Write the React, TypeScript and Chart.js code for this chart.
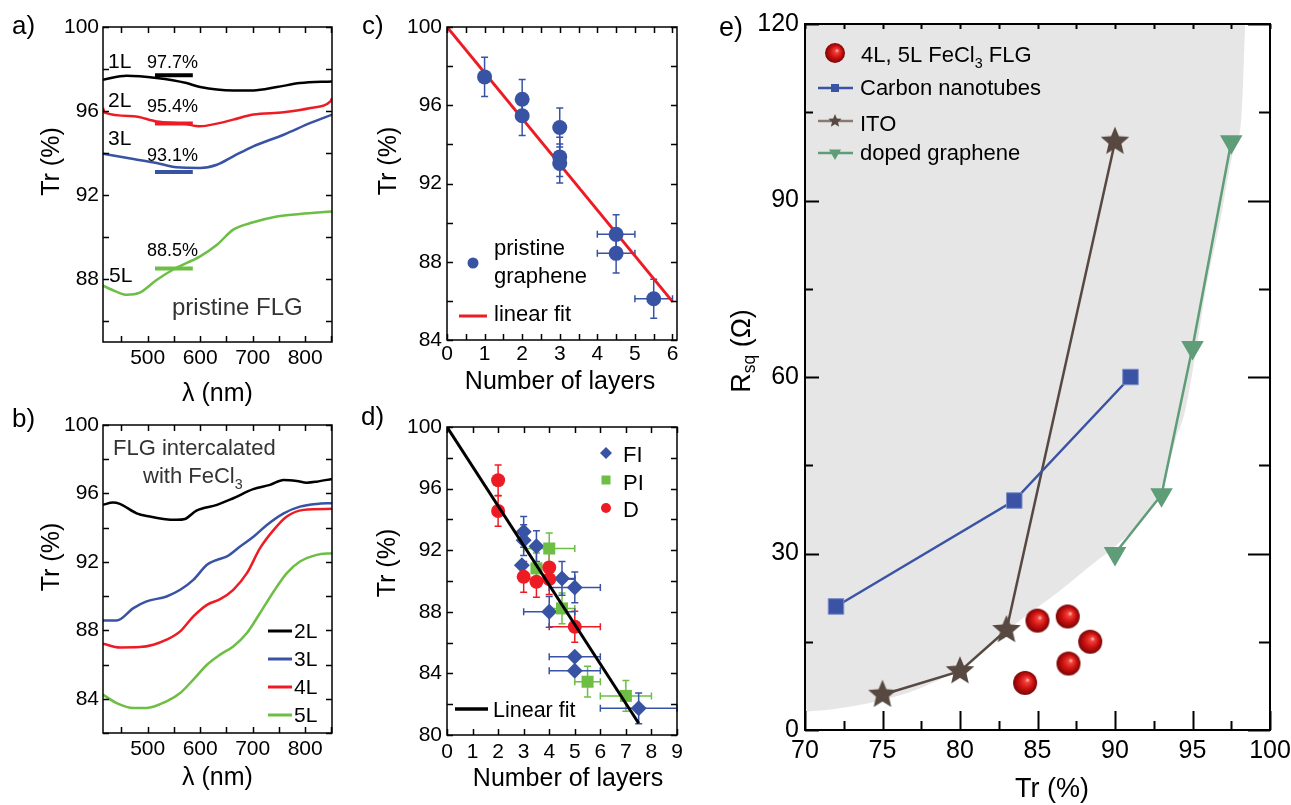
import React, { useEffect, useRef } from 'react';
import { Chart, registerables } from 'chart.js';

Chart.register(...registerables);

const FAM = "'Liberation Sans', Arial, Helvetica, sans-serif";

// ---------------- Panel a: pristine FLG ----------------
const a1L_nm = [415, 460, 517, 574, 600, 663, 701, 746, 790, 851];
const a1L_tr = [97.49, 97.68, 97.57, 97.33, 97.14, 96.98, 96.98, 97.14, 97.33, 97.41];
const a2L_nm = [415, 418, 473, 517, 568, 600, 632, 663, 701, 759, 810, 848, 851];
const a2L_tr = [96.15, 95.92, 95.75, 95.5, 95.4, 95.27, 95.4, 95.59, 95.83, 95.94, 96.14, 96.46, 96.6];
const a3L_nm = [415, 473, 517, 555, 600, 632, 663, 701, 759, 810, 851];
const a3L_tr = [93.97, 93.71, 93.52, 93.32, 93.29, 93.44, 93.84, 94.32, 94.87, 95.43, 95.83];
const a5L_nm = [415, 440, 460, 485, 517, 552, 600, 632, 663, 701, 746, 790, 851];
const a5L_tr = [87.68, 87.4, 87.25, 87.35, 87.95, 88.5, 89.08, 89.63, 90.35, 90.7, 90.98, 91.1, 91.22];
const aBarNm = [514, 586];
const aBarTr = [97.7, 95.4, 93.1, 88.5];
const aXMajor = [500, 600, 700, 800];
const aXMinor = [450, 550, 650, 750, 850];
const aYMajor = [88, 92, 96, 100];
const aYMinor = [86, 90, 94, 98];

// ---------------- Panel b: FeCl3 intercalated ----------------
const b2L_nm = [415, 434, 447, 479, 504, 530, 555, 571, 593, 632, 663, 701, 733, 759, 784, 803, 822, 851];
const b2L_tr = [95.33, 95.47, 95.39, 94.84, 94.65, 94.51, 94.46, 94.51, 95.0, 95.33, 95.72, 96.25, 96.5, 96.79, 96.73, 96.63, 96.69, 96.85];
const b3L_nm = [415, 441, 473, 498, 536, 562, 587, 613, 632, 651, 676, 702, 727, 759, 790, 822, 851];
const b3L_tr = [88.58, 88.58, 89.3, 89.69, 89.98, 90.37, 90.95, 91.83, 92.12, 92.32, 92.9, 93.48, 94.16, 94.84, 95.23, 95.39, 95.43];
const b4L_nm = [415, 447, 485, 511, 536, 562, 587, 613, 638, 663, 689, 714, 740, 765, 797, 851];
const b4L_tr = [87.22, 87.0, 87.02, 87.16, 87.45, 87.94, 88.81, 89.49, 89.82, 90.37, 91.34, 92.8, 93.87, 94.65, 95.04, 95.1];
const b5L_nm = [415, 441, 473, 498, 536, 562, 587, 613, 638, 663, 689, 714, 740, 765, 790, 822, 851];
const b5L_tr = [84.24, 83.75, 83.46, 83.46, 83.85, 84.34, 85.12, 85.99, 86.58, 87.06, 87.84, 89.01, 90.27, 91.34, 92.02, 92.41, 92.51];
const bLegend = ['2L', '3L', '4L', '5L'];
const bYMajor = [84, 88, 92, 96, 100];
const bYMinor = [82, 86, 90, 94, 98];

// ---------------- Panel c: pristine vs layers ----------------
const cLayers = [1, 2, 2, 3, 3, 3, 4.5, 4.5, 5.5];
const cTr = [97.45, 96.31, 95.46, 94.86, 93.36, 93.02, 89.4, 88.43, 86.11];
const cXErr = [0, 0, 0, 0, 0, 0, 0.5, 0.5, 0.5];
const cYErr = [1, 1, 1, 1, 1, 1, 1, 1, 1];
const cFitX = [0, 6];
const cFitY = [100, 85.96];
const cXMajor = [0, 1, 2, 3, 4, 5, 6];
const cXMinor = [0.5, 1.5, 2.5, 3.5, 4.5, 5.5];
const cYMajor = [84, 88, 92, 96, 100];
const cYMinor = [86, 90, 94, 98];

// ---------------- Panel d: FI / PI / D ----------------
const dFI_x = [3, 3, 3.5, 2.93, 4, 4.5, 5, 5, 5, 7.5];
const dFI_y = [93.19, 92.65, 92.26, 91.03, 88.0, 90.17, 89.58, 85.08, 84.17, 81.73];
const dFI_xErr = [0, 0, 0, 0, 1, 0.5, 1, 1, 1, 1.5];
const dFI_yErr = [1, 1, 1, 0, 1, 1.1, 1, 0, 0, 1];
const dPI_x = [4, 3.5, 4.5, 5.5, 7];
const dPI_y = [92.11, 90.82, 88.22, 83.46, 82.54];
const dPI_xErr = [1, 0, 0.5, 0.5, 1];
const dPI_yErr = [1, 1, 1, 1, 1];
const dD_x = [2, 2, 3, 3.5, 4, 4, 5];
const dD_y = [96.54, 94.55, 90.27, 89.95, 90.88, 90.12, 87.03];
const dD_xErr = [0, 0, 0, 0, 0, 1, 1];
const dD_yErr = [1, 1, 1, 1, 1, 1, 1];
const dFitX = [0, 7.5];
const dFitY = [100, 80.76];
const dXMajor = [0, 1, 2, 3, 4, 5, 6, 7, 8, 9];
const dYMajor = [80, 84, 88, 92, 96, 100];
const dYMinor = [82, 86, 90, 94, 98];

// ---------------- Panel e: Rsq vs Tr ----------------
const eFLG_tr = [85.0, 86.95, 88.4, 87.0, 84.2];
const eFLG_r = [18.6, 19.3, 15.0, 11.3, 8.0];
const eCNT_tr = [72, 83.5, 91];
const eCNT_r = [21, 39, 60];
const eITO_tr = [75, 80, 83, 90];
const eITO_r = [6, 10, 17, 100];
const eDG_tr = [90, 93, 95, 97.5];
const eDG_r = [30, 40, 65, 100];
const eBound_tr = [70, 72, 75, 77.5, 80, 82.2, 83.9, 86.5, 88.6, 90, 92, 92.9, 93.5, 93.9, 94.5, 95.2, 95.9, 96.8, 97.6, 98.15, 98.4];
const eBound_r = [3.1, 3.6, 5.1, 7.2, 10.5, 15.2, 18.7, 23.8, 28.3, 31.2, 36.5, 40.8, 45.5, 49.3, 54, 64, 75.4, 86.7, 98, 104, 120];
const eXMajor = [70, 75, 80, 85, 90, 95, 100];
const eXMinor = [72.5, 77.5, 82.5, 87.5, 92.5, 97.5];
const eYMajor = [0, 30, 60, 90, 120];
const eYMinor = [15, 45, 75, 105];

// colours
const C_BLACK = '#000000';
const C_RED = '#ed1c24';
const C_BLUE = '#3953a4';
const C_GREEN = '#6dbe45';
const C_CNT = '#3a53a4';
const C_ITO = '#574941';
const C_DG = '#5e9d77';
const C_GRAY = '#e6e6e6';

const pts = (xs: number[], ys: number[]) => xs.map((x, i) => ({ x, y: ys[i] }));

// ---------- drawing helpers ----------
type Seg = { t: string; sub?: boolean };
type TextItem = { segs: Seg[]; x: number; y: number; size: number; color?: string; align?: 'left' | 'center'; rot?: boolean };
type LineItem = { x1: number; y1: number; x2: number; y2: number; color: string; w: number };
type MarkItem = { x: number; y: number; kind: 'circle' | 'square' | 'diamond' | 'triDown' | 'star' | 'sphere'; r: number; color: string };

const T = (t: string, x: number, y: number, size: number, extra: Partial<TextItem> = {}): TextItem => ({ segs: [{ t }], x, y, size, ...extra });

function drawRich(ctx: CanvasRenderingContext2D, segs: Seg[], x: number, y: number, size: number, align: 'left' | 'center') {
  const widths = segs.map((s) => {
    ctx.font = `${s.sub ? size * 0.65 : size}px ${FAM}`;
    return ctx.measureText(s.t).width;
  });
  const total = widths.reduce((a, b) => a + b, 0);
  let cx = align === 'center' ? x - total / 2 : x;
  segs.forEach((s, i) => {
    ctx.font = `${s.sub ? size * 0.65 : size}px ${FAM}`;
    ctx.fillText(s.t, cx, s.sub ? y + size * 0.27 : y);
    cx += widths[i];
  });
}

function starPath(g: CanvasRenderingContext2D, cx: number, cy: number, R: number) {
  g.beginPath();
  for (let i = 0; i < 10; i++) {
    const rr = i % 2 === 0 ? R : R * 0.45;
    const a = -Math.PI / 2 + (i * Math.PI) / 5;
    const px = cx + rr * Math.cos(a);
    const py = cy + rr * Math.sin(a);
    if (i === 0) g.moveTo(px, py);
    else g.lineTo(px, py);
  }
  g.closePath();
}

function paintSphere(g: CanvasRenderingContext2D, cx: number, cy: number, r: number) {
  const grad = g.createRadialGradient(cx + r * 0.22, cy - r * 0.25, r * 0.04, cx, cy, r);
  grad.addColorStop(0, '#ffb3a8');
  grad.addColorStop(0.16, '#f0423a');
  grad.addColorStop(0.55, '#cf1212');
  grad.addColorStop(1, '#7a0404');
  g.fillStyle = grad;
  g.beginPath();
  g.arc(cx, cy, r, 0, Math.PI * 2);
  g.fill();
}

function makeStar(R: number, color: string) {
  const s = Math.ceil(2 * R + 4);
  const c = document.createElement('canvas');
  c.width = s;
  c.height = s;
  const g = c.getContext('2d')!;
  starPath(g, s / 2, s / 2, R);
  g.fillStyle = color;
  g.fill();
  return c;
}

function makeSphere(r: number) {
  const s = Math.ceil(2 * r + 2);
  const c = document.createElement('canvas');
  c.width = s;
  c.height = s;
  const g = c.getContext('2d')!;
  paintSphere(g, s / 2, s / 2, r);
  return c;
}

function drawMark(ctx: CanvasRenderingContext2D, m: MarkItem) {
  const { x, y, r } = m;
  ctx.fillStyle = m.color;
  ctx.beginPath();
  if (m.kind === 'circle') {
    ctx.arc(x, y, r, 0, Math.PI * 2);
    ctx.fill();
  } else if (m.kind === 'square') {
    ctx.fillRect(x - r, y - r, 2 * r, 2 * r);
  } else if (m.kind === 'diamond') {
    ctx.moveTo(x - r, y);
    ctx.lineTo(x, y - r);
    ctx.lineTo(x + r, y);
    ctx.lineTo(x, y + r);
    ctx.closePath();
    ctx.fill();
  } else if (m.kind === 'triDown') {
    ctx.moveTo(x - r * 0.866, y - r * 0.5);
    ctx.lineTo(x + r * 0.866, y - r * 0.5);
    ctx.lineTo(x, y + r);
    ctx.closePath();
    ctx.fill();
  } else if (m.kind === 'star') {
    starPath(ctx, x, y, r);
    ctx.fill();
  } else if (m.kind === 'sphere') {
    paintSphere(ctx, x, y, r);
  }
}

type Spec = {
  ox: number;
  oy: number;
  xMajor: number[];
  xMinor: number[];
  yMajor: number[];
  yMinor: number[];
  len: { left: [number, number]; right: [number, number]; top: [number, number]; bottom: [number, number] };
  frameW: number;
  texts: TextItem[];
  lines: LineItem[];
  marks: MarkItem[];
};

function makeDecor(spec: Spec) {
  return {
    id: 'decor',
    beforeDatasetsDraw(chart: any) {
      const { ctx, scales } = chart;
      const xs = scales.x;
      const ys = scales.y;
      chart.data.datasets.forEach((ds: any) => {
        if (!ds.xErr && !ds.yErr) return;
        ctx.save();
        ctx.strokeStyle = ds.errColor;
        ctx.lineWidth = 1.5;
        const cap = ds.cap || 4;
        ds.data.forEach((p: any, i: number) => {
          const px = xs.getPixelForValue(p.x);
          const py = ys.getPixelForValue(p.y);
          const ex = ds.xErr ? ds.xErr[i] : 0;
          const ey = ds.yErr ? ds.yErr[i] : 0;
          ctx.beginPath();
          if (ey) {
            const t = ys.getPixelForValue(p.y + ey);
            const b = ys.getPixelForValue(p.y - ey);
            ctx.moveTo(px, t); ctx.lineTo(px, b);
            ctx.moveTo(px - cap, t); ctx.lineTo(px + cap, t);
            ctx.moveTo(px - cap, b); ctx.lineTo(px + cap, b);
          }
          if (ex) {
            const l = xs.getPixelForValue(p.x - ex);
            const r = xs.getPixelForValue(p.x + ex);
            ctx.moveTo(l, py); ctx.lineTo(r, py);
            ctx.moveTo(l, py - cap); ctx.lineTo(l, py + cap);
            ctx.moveTo(r, py - cap); ctx.lineTo(r, py + cap);
          }
          ctx.stroke();
        });
        ctx.restore();
      });
    },
    afterDraw(chart: any) {
      const { ctx, chartArea: ca, scales } = chart;
      const xs = scales.x;
      const ys = scales.y;
      ctx.save();
      ctx.strokeStyle = '#000';
      ctx.lineWidth = spec.frameW;
      ctx.lineCap = 'butt';
      const L = spec.len;
      const xt = (vals: number[], k: number) =>
        vals.forEach((v) => {
          const px = Math.round(xs.getPixelForValue(v)) + 0.5;
          ctx.beginPath();
          ctx.moveTo(px, ca.bottom);
          ctx.lineTo(px, ca.bottom - L.bottom[k]);
          ctx.moveTo(px, ca.top);
          ctx.lineTo(px, ca.top + L.top[k]);
          ctx.stroke();
        });
      const yt = (vals: number[], k: number) =>
        vals.forEach((v) => {
          const py = Math.round(ys.getPixelForValue(v)) + 0.5;
          ctx.beginPath();
          ctx.moveTo(ca.left, py);
          ctx.lineTo(ca.left + L.left[k], py);
          ctx.moveTo(ca.right, py);
          ctx.lineTo(ca.right - L.right[k], py);
          ctx.stroke();
        });
      xt(spec.xMajor, 0);
      xt(spec.xMinor, 1);
      yt(spec.yMajor, 0);
      yt(spec.yMinor, 1);
      ctx.strokeRect(ca.left, ca.top, ca.right - ca.left, ca.bottom - ca.top);
      // legend lines & marks
      spec.lines.forEach((l) => {
        ctx.strokeStyle = l.color;
        ctx.lineWidth = l.w;
        ctx.beginPath();
        ctx.moveTo(l.x1 - spec.ox, l.y1 - spec.oy);
        ctx.lineTo(l.x2 - spec.ox, l.y2 - spec.oy);
        ctx.stroke();
      });
      spec.marks.forEach((m) => drawMark(ctx, { ...m, x: m.x - spec.ox, y: m.y - spec.oy }));
      // texts
      spec.texts.forEach((t) => {
        ctx.fillStyle = t.color || '#000';
        if (t.rot) {
          ctx.save();
          ctx.translate(t.x - spec.ox, t.y - spec.oy);
          ctx.rotate(-Math.PI / 2);
          ctx.textBaseline = 'middle';
          ctx.textAlign = 'left';
          drawRich(ctx, t.segs, 0, 0, t.size, 'center');
          ctx.restore();
        } else {
          ctx.textBaseline = 'alphabetic';
          ctx.textAlign = 'left';
          drawRich(ctx, t.segs, t.x - spec.ox, t.y - spec.oy, t.size, t.align || 'left');
        }
      });
      ctx.restore();
    },
  };
}

type AxisP = {
  xmin: number; xmax: number; ymin: number; ymax: number;
  xMajor: number[]; yMajor: number[]; yW: number; xH: number; fs: number; xPad: number; yPad: number;
};

function axes(p: AxisP) {
  const font = { family: FAM, size: p.fs };
  return {
    x: {
      type: 'linear', position: 'bottom', min: p.xmin, max: p.xmax,
      afterBuildTicks: (s: any) => { s.ticks = p.xMajor.map((v) => ({ value: v })); },
      afterFit: (s: any) => { s.height = p.xH; s.paddingLeft = 0; s.paddingRight = 0; },
      grid: { display: false, drawTicks: false }, border: { display: false },
      ticks: { font, color: '#000', padding: p.xPad, autoSkip: false, maxRotation: 0, minRotation: 0, callback: (v: any) => String(v) },
    },
    y: {
      type: 'linear', position: 'left', min: p.ymin, max: p.ymax,
      afterBuildTicks: (s: any) => { s.ticks = p.yMajor.map((v) => ({ value: v })); },
      afterFit: (s: any) => { s.width = p.yW; s.paddingTop = 0; s.paddingBottom = 0; },
      grid: { display: false, drawTicks: false }, border: { display: false },
      ticks: { font, color: '#000', padding: p.yPad, autoSkip: false, callback: (v: any) => String(v) },
    },
  };
}

const curve = (xs: number[], ys: number[], color: string, w = 2.5) => ({
  data: pts(xs, ys), showLine: true, borderColor: color, borderWidth: w, pointRadius: 0, fill: false,
  cubicInterpolationMode: 'monotone',
});

function baseOptions(pad: { top: number; right: number }, scales: any) {
  return {
    responsive: false, animation: false, events: [],
    layout: { padding: { top: pad.top, right: pad.right, left: 0, bottom: 0 } },
    plugins: { legend: { display: false }, title: { display: false }, tooltip: { enabled: false } },
    scales,
  };
}

// ---------- panel configs ----------
function cfgA() {
  const spec: Spec = {
    ox: 0, oy: 0, xMajor: aXMajor, xMinor: aXMinor, yMajor: aYMajor, yMinor: aYMinor,
    len: { left: [6, 6], right: [6, 6], top: [6, 6], bottom: [6, 6] }, frameW: 1.5,
    texts: [
      T('a)', 12, 34, 26),
      T('1L', 108, 68, 21), T('97.7%', 147, 68, 18),
      T('2L', 108, 107, 21), T('95.4%', 147, 112, 18),
      T('3L', 108, 145, 21), T('93.1%', 147, 161, 18),
      T('88.5%', 147, 256, 18), T('5L', 109, 282, 21),
      T('pristine FLG', 172, 315, 24, { color: '#333' }),
      T('Tr (%)', 52.5, 161.5, 25, { rot: true }),
      T('λ (nm)', 217.5, 401, 25, { align: 'center' }),
    ],
    lines: [], marks: [],
  };
  const colors = [C_BLACK, C_RED, C_BLUE, C_GREEN];
  const bars = aBarTr.map((v, i) => ({ data: pts(aBarNm, [v, v]), showLine: true, borderColor: colors[i], borderWidth: 4, pointRadius: 0 }));
  return {
    type: 'scatter',
    data: { datasets: [...bars, curve(a1L_nm, a1L_tr, C_BLACK), curve(a2L_nm, a2L_tr, C_RED), curve(a3L_nm, a3L_tr, C_BLUE), curve(a5L_nm, a5L_tr, C_GREEN)] },
    options: baseOptions({ top: 27, right: 13 }, axes({ xmin: 415, xmax: 851, ymin: 85, ymax: 100, xMajor: aXMajor, yMajor: aYMajor, yW: 103, xH: 73, fs: 21, xPad: 3.5, yPad: 4 })),
    plugins: [makeDecor(spec)],
  };
}

function cfgB() {
  const colors = [C_BLACK, C_BLUE, C_RED, C_GREEN];
  const ly = [631, 659, 687, 715];
  const spec: Spec = {
    ox: 0, oy: 400, xMajor: aXMajor, xMinor: aXMinor, yMajor: bYMajor, yMinor: bYMinor,
    len: { left: [6, 6], right: [6, 6], top: [6, 6], bottom: [6, 6] }, frameW: 1.5,
    texts: [
      T('b)', 12, 427, 26),
      T('FLG intercalated', 113, 455, 22, { color: '#333' }),
      { segs: [{ t: 'with FeCl' }, { t: '3', sub: true }], x: 143, y: 483, size: 22, color: '#333' },
      ...bLegend.map((s, i) => T(s, 294, ly[i] + 7, 21)),
      T('Tr (%)', 52, 557, 25, { rot: true }),
      T('λ (nm)', 217.5, 785, 25, { align: 'center' }),
    ],
    lines: ly.map((y, i) => ({ x1: 268, y1: y, x2: 292, y2: y, color: colors[i], w: 3 })),
    marks: [],
  };
  return {
    type: 'scatter',
    data: { datasets: [curve(b2L_nm, b2L_tr, C_BLACK), curve(b3L_nm, b3L_tr, C_BLUE), curve(b4L_nm, b4L_tr, C_RED), curve(b5L_nm, b5L_tr, C_GREEN)] },
    options: baseOptions({ top: 25, right: 13 }, axes({ xmin: 415, xmax: 851, ymin: 82, ymax: 100, xMajor: aXMajor, yMajor: bYMajor, yW: 103, xH: 72, fs: 21, xPad: 4, yPad: 4 })),
    plugins: [makeDecor(spec)],
  };
}

function cfgC() {
  const spec: Spec = {
    ox: 345, oy: 0, xMajor: cXMajor, xMinor: cXMinor, yMajor: cYMajor, yMinor: cYMinor,
    len: { left: [6, 6], right: [6, 6], top: [6, 6], bottom: [6, 6] }, frameW: 1.5,
    texts: [
      T('c)', 362, 34, 26),
      T('pristine', 494, 255, 22), T('graphene', 494, 283, 22), T('linear fit', 494, 321, 22),
      T('Tr (%)', 389.5, 161, 25, { rot: true }),
      T('Number of layers', 560, 389, 25, { align: 'center' }),
    ],
    lines: [{ x1: 459, y1: 316, x2: 487, y2: 316, color: C_RED, w: 3 }],
    marks: [{ x: 473, y: 263, kind: 'circle', r: 5.5, color: C_BLUE }],
  };
  return {
    type: 'scatter',
    data: {
      datasets: [
        { data: pts(cLayers, cTr), pointRadius: 7.5, pointBackgroundColor: C_BLUE, pointBorderWidth: 0, showLine: false, xErr: cXErr, yErr: cYErr, errColor: C_BLUE, cap: 3.5 },
        { data: pts(cFitX, cFitY), showLine: true, borderColor: C_RED, borderWidth: 3, pointRadius: 0 },
      ],
    },
    options: baseOptions({ top: 27, right: 13 }, axes({ xmin: 0, xmax: 6.12, ymin: 84, ymax: 100, xMajor: cXMajor, yMajor: cYMajor, yW: 102, xH: 60, fs: 21, xPad: 2, yPad: 5 })),
    plugins: [makeDecor(spec)],
  };
}

function cfgD() {
  const spec: Spec = {
    ox: 345, oy: 400, xMajor: dXMajor, xMinor: [], yMajor: dYMajor, yMinor: dYMinor,
    len: { left: [6, 6], right: [6, 6], top: [6, 6], bottom: [6, 6] }, frameW: 1.5,
    texts: [
      T('d)', 361, 425, 26),
      T('FI', 623, 462, 22), T('PI', 623, 490, 22), T('D', 623, 517, 22),
      T('Linear fit', 493, 717, 21.5),
      T('Tr (%)', 388, 563, 25, { rot: true }),
      T('Number of layers', 568, 786, 25, { align: 'center' }),
    ],
    lines: [{ x1: 455, y1: 709, x2: 488, y2: 709, color: C_BLACK, w: 3.5 }],
    marks: [
      { x: 606, y: 453, kind: 'diamond', r: 6, color: C_BLUE },
      { x: 606, y: 480, kind: 'square', r: 4.5, color: C_GREEN },
      { x: 606, y: 508, kind: 'circle', r: 5, color: C_RED },
    ],
  };
  return {
    type: 'scatter',
    data: {
      datasets: [
        { data: pts(dFitX, dFitY), showLine: true, borderColor: C_BLACK, borderWidth: 3, pointRadius: 0 },
        { data: pts(dD_x, dD_y), pointStyle: 'circle', pointRadius: 7, pointBackgroundColor: C_RED, pointBorderWidth: 0, xErr: dD_xErr, yErr: dD_yErr, errColor: C_RED, cap: 3.5 },
        { data: pts(dPI_x, dPI_y), pointStyle: 'rect', pointRadius: 8.5, pointBackgroundColor: C_GREEN, pointBorderWidth: 0, xErr: dPI_xErr, yErr: dPI_yErr, errColor: C_GREEN, cap: 3.5 },
        { data: pts(dFI_x, dFI_y), pointStyle: 'rectRot', pointRadius: 8, pointBackgroundColor: C_BLUE, pointBorderWidth: 0, xErr: dFI_xErr, yErr: dFI_yErr, errColor: C_BLUE, cap: 3.5 },
      ],
    },
    options: baseOptions({ top: 27, right: 13 }, axes({ xmin: 0, xmax: 9, ymin: 80, ymax: 100, xMajor: dXMajor, yMajor: dYMajor, yW: 102, xH: 70, fs: 21, xPad: 5, yPad: 5 })),
    plugins: [makeDecor(spec)],
  };
}

function cfgE() {
  const star = makeStar(15, C_ITO);
  const sphere = makeSphere(12);
  const spec: Spec = {
    ox: 690, oy: 0, xMajor: eXMajor, xMinor: eXMinor, yMajor: eYMajor, yMinor: eYMinor,
    len: { left: [14, 8], right: [22, 11], top: [5, 5], bottom: [19, 9] }, frameW: 2,
    texts: [
      T('e)', 719, 36, 27),
      { segs: [{ t: '4L, 5L FeCl' }, { t: '3', sub: true }, { t: ' FLG' }], x: 861, y: 62, size: 22 },
      T('Carbon nanotubes', 860, 95, 22),
      T('ITO', 860, 131, 22),
      T('doped graphene', 860, 160, 22),
      { segs: [{ t: 'R' }, { t: 'sq', sub: true }, { t: ' (Ω)' }], x: 742.5, y: 351, size: 27, rot: true },
      T('Tr (%)', 1052, 797, 27, { align: 'center' }),
    ],
    lines: [
      { x1: 818, y1: 88, x2: 853, y2: 88, color: C_CNT, w: 2.5 },
      { x1: 818, y1: 121, x2: 853, y2: 121, color: '#8a7b72', w: 2.5 },
      { x1: 818, y1: 153, x2: 853, y2: 153, color: C_DG, w: 2.5 },
    ],
    marks: [
      { x: 835, y: 53, kind: 'sphere', r: 10, color: '#c00' },
      { x: 835, y: 88, kind: 'square', r: 4, color: C_CNT },
      { x: 835, y: 121, kind: 'star', r: 7, color: C_ITO },
      { x: 835, y: 153, kind: 'triDown', r: 7, color: C_DG },
    ],
  };
  return {
    type: 'scatter',
    data: {
      datasets: [
        { data: pts(eFLG_tr, eFLG_r), pointStyle: sphere, pointRadius: 12, showLine: false },
        { data: pts(eCNT_tr, eCNT_r), showLine: true, borderColor: C_CNT, borderWidth: 2.5, pointStyle: 'rect', pointRadius: 11, pointBackgroundColor: C_CNT, pointBorderColor: '#7d8ec6', pointBorderWidth: 1 },
        { data: pts(eITO_tr, eITO_r), showLine: true, borderColor: C_ITO, borderWidth: 2.5, pointStyle: star, pointRadius: 15 },
        { data: pts(eDG_tr, eDG_r), showLine: true, borderColor: C_DG, borderWidth: 2.5, pointStyle: 'triangle', pointRotation: 180, pointRadius: 13, pointBackgroundColor: C_DG, pointBorderWidth: 0 },
        { data: pts(eBound_tr, eBound_r), showLine: true, borderWidth: 0, borderColor: 'rgba(0,0,0,0)', backgroundColor: C_GRAY, fill: 'end', pointRadius: 0, cubicInterpolationMode: 'monotone', order: 10 },
      ],
    },
    options: baseOptions({ top: 24, right: 21 }, axes({ xmin: 70, xmax: 100, ymin: 0, ymax: 120, xMajor: eXMajor, yMajor: eYMajor, yW: 115, xH: 75, fs: 25, xPad: 6, yPad: 6 })),
    plugins: [makeDecor(spec)],
  };
}

function Panel({ left, top, width, height, make }: { left: number; top: number; width: number; height: number; make: () => any }) {
  const ref = useRef<HTMLCanvasElement>(null);
  useEffect(() => {
    const chart = new Chart(ref.current as HTMLCanvasElement, make());
    return () => chart.destroy();
  }, []);
  return <canvas ref={ref} width={width} height={height} style={{ position: 'absolute', left, top, width, height }} />;
}

export default function App() {
  return (
    <div style={{ position: 'absolute', left: 0, top: 0, width: 1291, height: 805, background: '#fff', overflow: 'hidden' }}>
      <Panel left={0} top={0} width={345} height={415} make={cfgA} />
      <Panel left={0} top={400} width={345} height={405} make={cfgB} />
      <Panel left={345} top={0} width={345} height={400} make={cfgC} />
      <Panel left={345} top={400} width={345} height={405} make={cfgD} />
      <Panel left={690} top={0} width={601} height={805} make={cfgE} />
    </div>
  );
}
